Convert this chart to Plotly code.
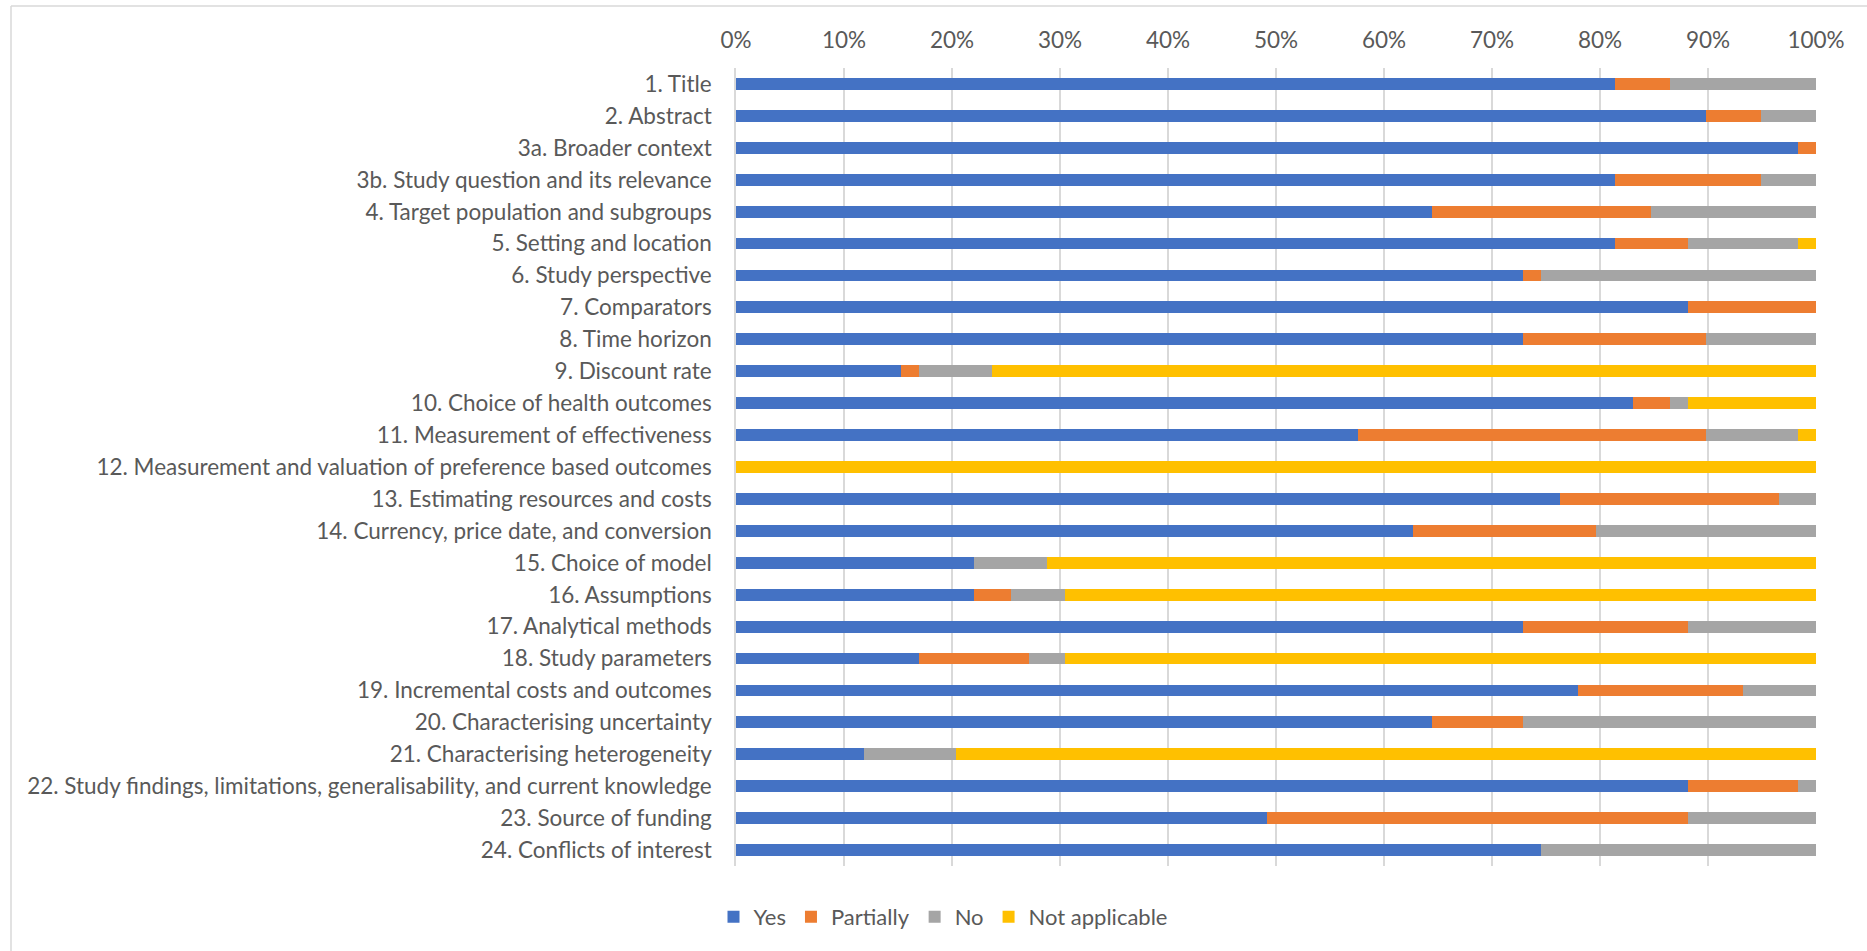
import plotly.graph_objects as go

categories = [
    "1. Title",
    "2. Abstract",
    "3a. Broader context",
    "3b. Study question and its relevance",
    "4. Target population and subgroups",
    "5. Setting and location",
    "6. Study perspective",
    "7. Comparators",
    "8. Time horizon",
    "9. Discount rate",
    "10. Choice of health outcomes",
    "11. Measurement of effectiveness",
    "12. Measurement and valuation of preference based outcomes",
    "13. Estimating resources and costs",
    "14. Currency, price date, and conversion",
    "15. Choice of model",
    "16. Assumptions",
    "17. Analytical methods",
    "18. Study parameters",
    "19. Incremental costs and outcomes",
    "20. Characterising uncertainty",
    "21. Characterising heterogeneity",
    "22. Study findings, limitations, generalisability, and current knowledge",
    "23. Source of funding",
    "24. Conflicts of interest",
]

# Number of studies (out of 59) per answer
yes = [48, 53, 58, 48, 38, 48, 43, 52, 43, 9, 49, 34, 0, 45, 37, 13, 13, 43, 10, 46, 38, 7, 52, 29, 44]
partially = [3, 3, 1, 8, 12, 4, 1, 7, 10, 1, 2, 19, 0, 12, 10, 0, 2, 9, 6, 9, 5, 0, 6, 23, 0]
no = [8, 3, 0, 3, 9, 6, 15, 0, 6, 4, 1, 5, 0, 2, 12, 4, 3, 7, 2, 4, 16, 5, 1, 7, 15]
not_applicable = [0, 0, 0, 0, 0, 1, 0, 0, 0, 45, 7, 1, 59, 0, 0, 42, 41, 0, 41, 0, 0, 47, 0, 0, 0]

series = [
    ("Yes", yes, "#4472C4"),
    ("Partially", partially, "#ED7D31"),
    ("No", no, "#A5A5A5"),
    ("Not applicable", not_applicable, "#FFC000"),
]

FONT = "Lato"
TXT = "#595959"
FS = 22.5

fig = go.Figure()
for name, vals, color in series:
    fig.add_trace(go.Bar(
        y=categories, x=vals, name=name, orientation="h",
        marker=dict(color=color, line=dict(width=0)),
    ))

W, H = 1867, 951
L, R, T, B = 736, 51, 68, 85
pw, ph = W - L - R, H - T - B

def px_x(p):
    return (p - L) / pw

def px_y(p):
    return (H - B - p) / ph

fig.update_layout(
    width=W, height=H,
    barmode="stack", barnorm="percent", bargap=0.63,
    margin=dict(l=L, r=R, t=T, b=B, autoexpand=False),
    paper_bgcolor="white", plot_bgcolor="white",
    font=dict(family=FONT, size=FS, color=TXT),
    xaxis=dict(
        side="top", range=[0, 100], dtick=10, ticksuffix="%",
        showgrid=True, gridcolor="#D9D9D9", gridwidth=1.5,
        zeroline=False, showline=False, ticks="",
        ticklabelstandoff=15, fixedrange=True,
    ),
    yaxis=dict(
        autorange="reversed", showgrid=False, zeroline=False,
        showline=True, linecolor="#D9D9D9", linewidth=1.5,
        ticks="", ticklabelstandoff=18,
    ),
    legend=dict(
        orientation="h", x=px_x(943), xanchor="center",
        y=px_y(917), yanchor="middle",
        font=dict(family=FONT, size=22, color=TXT),
        traceorder="normal", itemwidth=30,
    ),
    shapes=[
        dict(type="line", xref="paper", yref="paper",
             x0=px_x(11), x1=px_x(1880), y0=px_y(6), y1=px_y(6),
             line=dict(color="#D9D9D9", width=1.5)),
        dict(type="line", xref="paper", yref="paper",
             x0=px_x(11), x1=px_x(11), y0=px_y(6), y1=px_y(960),
             line=dict(color="#D9D9D9", width=1.5)),
    ],
)

fig.write_html(
    "out.html",
    config={"displayModeBar": False},
    post_script="document.body.style.margin='0';document.body.style.overflow='hidden';",
)
